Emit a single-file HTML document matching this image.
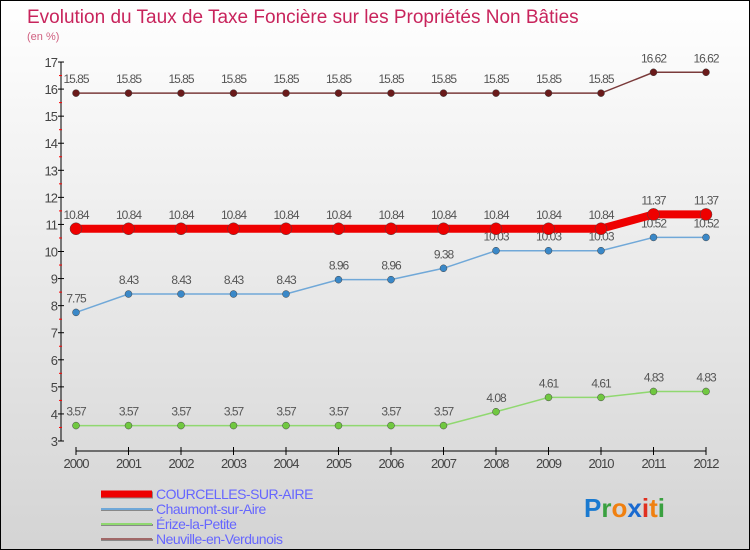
<!DOCTYPE html>
<html><head><meta charset="utf-8"><style>
body{margin:0}
#c{width:750px;height:550px;position:relative;box-sizing:border-box;border:1px solid #000;background:linear-gradient(#ffffff,#d4d4d4);font-family:"Liberation Sans",sans-serif;overflow:hidden}
</style></head><body>
<div id="c">
<svg id="s" width="750" height="550" style="position:absolute;left:0;top:0">
<text x="26" y="22" font-size="19" fill="#c8245c">Evolution du Taux de Taxe Foncière sur les Propriétés Non Bâties</text>
<text x="26" y="39" font-size="11" fill="#d06080">(en %)</text>
<g id="axes"></g><g id="series"></g><g id="legend"></g>
<text x="583" y="516" font-size="26" font-weight="bold"><tspan fill="#1a7ad0">P</tspan><tspan fill="#3aa040">r</tspan><tspan fill="#f08010">o</tspan><tspan fill="#1a6ad0">x</tspan><tspan fill="#e03020">i</tspan><tspan fill="#f08010">t</tspan><tspan fill="#3aa040">i</tspan></text>
</svg>
</div>
<script>
const years=[2000,2001,2002,2003,2004,2005,2006,2007,2008,2009,2010,2011,2012];
const courcelles=[10.84,10.84,10.84,10.84,10.84,10.84,10.84,10.84,10.84,10.84,10.84,11.37,11.37];
const chaumont=[7.75,8.43,8.43,8.43,8.43,8.96,8.96,9.38,10.03,10.03,10.03,10.52,10.52];
const erize=[3.57,3.57,3.57,3.57,3.57,3.57,3.57,3.57,4.08,4.61,4.61,4.83,4.83];
const neuville=[15.85,15.85,15.85,15.85,15.85,15.85,15.85,15.85,15.85,15.85,15.85,16.62,16.62];
const yTicks=[3,4,5,6,7,8,9,10,11,12,13,14,15,16,17];
const NS="http://www.w3.org/2000/svg";
const xS=i=>75+i*52.5;
const yS=v=>440-(v-3)*27.07;
function mk(t,a,p){const e=document.createElementNS(NS,t);for(const k in a)e.setAttribute(k,a[k]);p.appendChild(e);return e;}
const ax=document.getElementById('axes');
const yl=mk('line',{x1:60,y1:yS(17),x2:60,y2:yS(3),stroke:'#000'},ax);


yTicks.forEach(v=>{
 mk('line',{x1:57,x2:63,y1:yS(v),y2:yS(v),stroke:'#000'},ax);
 if(v<17) mk('line',{x1:58,x2:61,y1:yS(v+0.5),y2:yS(v+0.5),stroke:'#f00'},ax);
 const t=mk('text',{x:56,y:yS(v)+5,'font-size':13,fill:'#444','text-anchor':'end','letter-spacing':'-1'},ax);
 t.textContent=v;
 
 
});
const xl=mk('line',{x1:xS(0),y1:450,x2:xS(12),y2:450,stroke:'#000'},ax);


years.forEach((y,i)=>{
 mk('line',{x1:xS(i),x2:xS(i),y1:446,y2:454,stroke:'#000'},ax);
 const t=mk('text',{x:xS(i),y:467,'font-size':13,fill:'#444','text-anchor':'middle','letter-spacing':'-1'},ax);
 t.textContent=y;
 
 
});
const sg=document.getElementById('series');
const defs=[
 {d:neuville,c:'#7a3a3a',dot:'#6a1a1a',w:1.5,r:3.5,n:'neuville'},
 {d:chaumont,c:'#70a8d8',dot:'#3a88c8',w:1.5,r:3.5,n:'chaumont'},
 {d:erize,c:'#90d870',dot:'#70c840',w:1.5,r:3.5,n:'erize'},
 {d:courcelles,c:'#ee0000',dot:'#ee0000',w:8,r:6,n:'courcelles'}
];
defs.forEach(s=>{
 const p=mk('polyline',{points:s.d.map((v,i)=>xS(i)+','+yS(v)).join(' '),fill:'none',stroke:s.c,'stroke-width':s.w},sg);
 
 
 s.d.forEach((v,i)=>{
  const c=mk('circle',{cx:xS(i),cy:yS(v),r:s.r,fill:s.dot,stroke:'#444','stroke-width':0.5},sg);
  
  
  const t=mk('text',{x:xS(i),y:yS(v)-10,'font-size':12,fill:'#555','text-anchor':'middle','letter-spacing':'-1'},sg);
  t.textContent=v.toFixed(2);
  
  
 });
});
const lg=document.getElementById('legend');
const leg=[['COURCELLES-SUR-AIRE','#ee0000',7,493],['Chaumont-sur-Aire','#70a8d8',2,508],['Érize-la-Petite','#90d870',2,523],['Neuville-en-Verdunois','#a06868',2,538]];
leg.forEach(l=>{
 mk('line',{x1:100,x2:152,y1:l[3]+1,y2:l[3]+1,stroke:'#888','stroke-width':l[2]},lg);
 const ln=mk('line',{x1:100,x2:151,y1:l[3],y2:l[3],stroke:l[1],'stroke-width':l[2]},lg);
 
 
 const t=mk('text',{x:155,y:l[3]+5,'font-size':14,fill:'#6666ff','letter-spacing':'-0.5'},lg);
 t.textContent=l[0];
 
 
});
</script>
</body></html>
